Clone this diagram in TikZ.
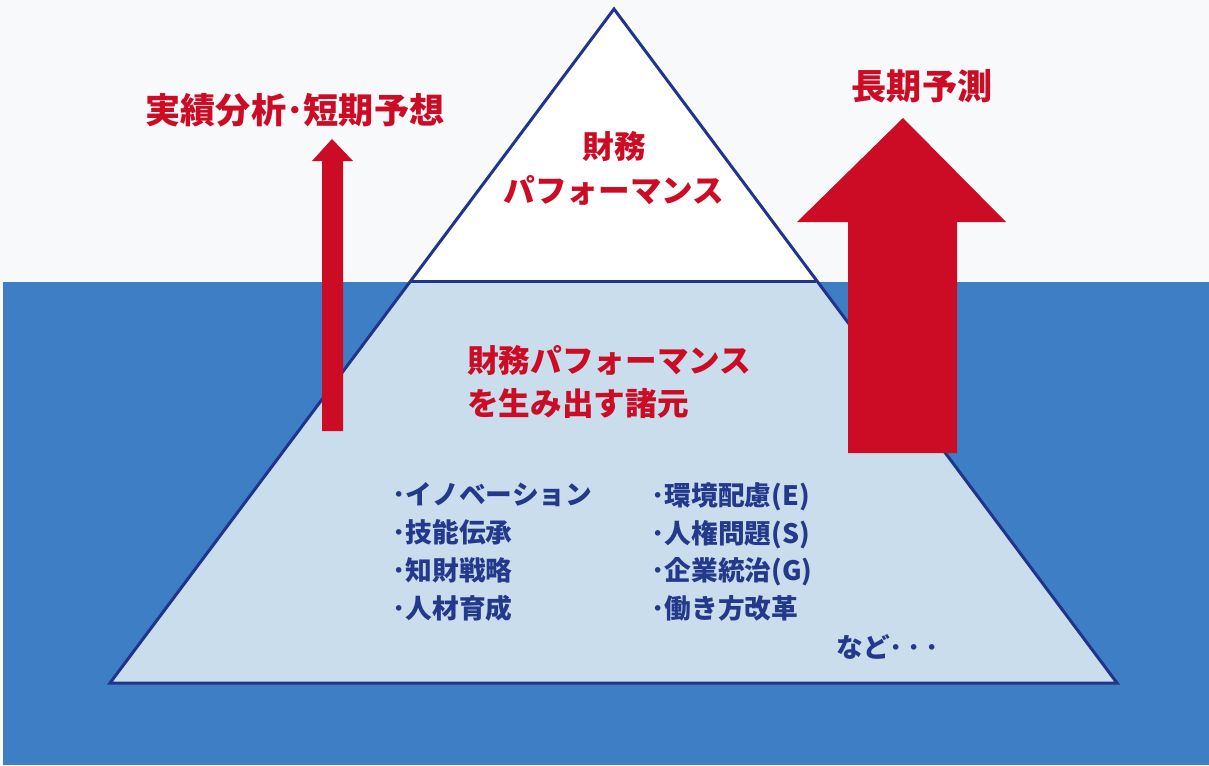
\documentclass[tikz,border=0pt]{standalone}
\usepackage{fontspec}
\newfontfamily\jp{Noto Sans CJK JP}
\definecolor{paper}{RGB}{248,249,250}
\definecolor{sea}{RGB}{62,126,196}
\definecolor{ice}{RGB}{202,221,236}
\definecolor{edge}{RGB}{32,52,140}
\definecolor{arrowred}{RGB}{204,12,36}
\definecolor{listblue}{RGB}{36,56,140}
\tikzset{
  redlabel/.style={text=arrowred, font=\jp\bfseries\fontsize{20}{24}\selectfont, inner sep=0pt},
  redtext/.style={text=arrowred, font=\jp\bfseries\fontsize{18}{25}\selectfont, inner sep=0pt},
  listtext/.style={text=listblue, font=\jp\bfseries\fontsize{15.2}{21.5}\selectfont, inner sep=0pt, anchor=west, align=left},
  outline/.style={draw=edge, line width=1.7pt, line join=miter},
  redarrow/.style={fill=arrowred, draw=none}
}
\begin{document}
\begin{tikzpicture}[x=0.02cm,y=-0.02cm]
\useasboundingbox (0,0) rectangle (1209,765);
% backgrounds
\fill[paper] (0,0) rectangle (1209,765);
\fill[sea] (3,282) rectangle (1209,765);
% corner points of the iceberg
\coordinate (apex) at (614,9);
\coordinate (wl) at (411,281);
\coordinate (wr) at (816,281);
\coordinate (bl) at (110,683);
\coordinate (br) at (1117,683);
% fills
\fill[ice] (wl) -- (wr) -- (br) -- (bl) -- cycle;
\fill[white] (apex) -- (wr) -- (wl) -- cycle;
% outlines
\draw[outline] (apex) -- (bl) -- (br) -- cycle;
\draw[outline] (wl) -- (wr);
% left thin arrow
\fill[redarrow] (322,431) -- (322,161) -- (312,161) -- (332,139) -- (353,161) -- (343,161) -- (343,431) -- cycle;
% right big arrow
\fill[redarrow] (848,453) -- (848,222) -- (797,222) -- (903,118) -- (1006,222) -- (957,222) -- (957,453) -- cycle;
% labels
\node[redlabel] (short) at (295,110) {実績分析･短期予想};
\node[redlabel] (long) at (922,86) {長期予測};
\node[redtext, align=center] (top) at (614,168) {財務\\パフォーマンス};
\node[redtext, align=left, anchor=west] (base) at (467,382) {財務パフォーマンス\\を生み出す諸元};
\node[listtext] (l1) at (392,552) {･イノベーション\\･技能伝承\\･知財戦略\\･人材育成};
\node[listtext] (l2) at (651,552) {･環境配慮(E)\\･人権問題(S)\\･企業統治(G)\\･働き方改革};
\node[listtext] (etc) at (836,647) {など･\,･\,･};
\end{tikzpicture}
\end{document}
